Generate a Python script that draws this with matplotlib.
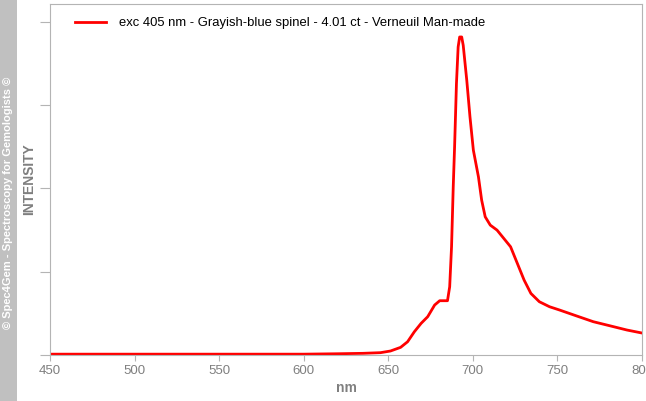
"""Emission spectrum of a Verneuil synthetic spinel, excitation 405 nm."""

import matplotlib
matplotlib.use("Agg")
import matplotlib.pyplot as plt

# wavelength (nm) and relative intensity
wavelength = [
    450, 500, 550, 600, 620, 635, 645.4, 651.3, 657.3, 661.4, 665.4, 669.4,
    673.3, 677.4, 680.4, 685.0, 686.3, 687.4, 688.4, 689.2, 690.3, 691.3,
    692.2, 693.4, 694.3, 696.4, 698.3, 700.3, 703.3, 705.2, 707.3, 710.3,
    714.3, 718.3, 722.3, 726.3, 730.3, 734.3, 739.3, 745.3, 751.3, 761.2,
    771.2, 781.2, 791.1, 800,
]
intensity = [
    0.01, 0.01, 0.01, 0.01, 0.015, 0.02, 0.028, 0.048, 0.092, 0.159, 0.279, 0.380,
    0.460, 0.60, 0.652, 0.652, 0.820, 1.30, 2.02, 2.50, 3.26, 3.70,
    3.82, 3.82, 3.72, 3.30, 2.86, 2.46, 2.14, 1.86, 1.66, 1.56,
    1.50, 1.40, 1.30, 1.10, 0.90, 0.74, 0.64, 0.58, 0.54, 0.47,
    0.40, 0.35, 0.30, 0.264,
]
x_ticks = [450, 500, 550, 600, 650, 700, 750, 800]
y_ticks = [0, 1, 2, 3, 4]
label = "exc 405 nm - Grayish-blue spinel - 4.01 ct - Verneuil Man-made"
watermark = "\u00a9 Spec4Gem - Spectroscopy for Gemologists \u00a9"

plt.rcParams["font.family"] = ["Liberation Sans", "DejaVu Sans"]

W, H = 646, 401
fig = plt.figure(figsize=(W / 100, H / 100), dpi=100)
ax = fig.add_axes([50 / W, 1 - 355 / H, 592 / W, 351 / H])

ax.plot(wavelength, intensity, color="#ff0000", linewidth=2.0, label=label)

ax.set_xlim(450, 800)
ax.set_ylim(0, 4.216)
ax.set_xticks(x_ticks)
ax.set_yticks(y_ticks)
ax.set_yticklabels([])

spine_color = "#b4b4b4"
for spine in ax.spines.values():
    spine.set_color(spine_color)
ax.tick_params(axis="x", colors=spine_color, labelcolor="#7f7f7f",
               labelsize=9.5, length=4, pad=3)
ax.tick_params(axis="y", colors=spine_color, length=7)

ax.set_xlabel("nm", color="#7f7f7f", fontsize=10, fontweight="bold", labelpad=3)
ax.set_ylabel("INTENSITY", color="#7f7f7f", fontsize=10, fontweight="bold")
ax.yaxis.set_label_coords(-14 / 592, 0.5)

ax.legend(loc="center left", bbox_to_anchor=(75 / W, 1 - 23 / H),
          bbox_transform=fig.transFigure, frameon=False, fontsize=9.4,
          handlelength=2.4, handletextpad=1.0, borderpad=0, borderaxespad=0)

# grey watermark band on the left edge
fig.patches.append(plt.Rectangle((0, 0), 17 / W, 1, transform=fig.transFigure,
                                 facecolor="#c0c0c0", edgecolor="none"))
fig.text(8.5 / W, 1 - 203 / H, watermark, rotation=90, color="white",
         fontsize=8, fontweight="bold", ha="center", va="center")

fig.savefig("out.png", dpi=100)
